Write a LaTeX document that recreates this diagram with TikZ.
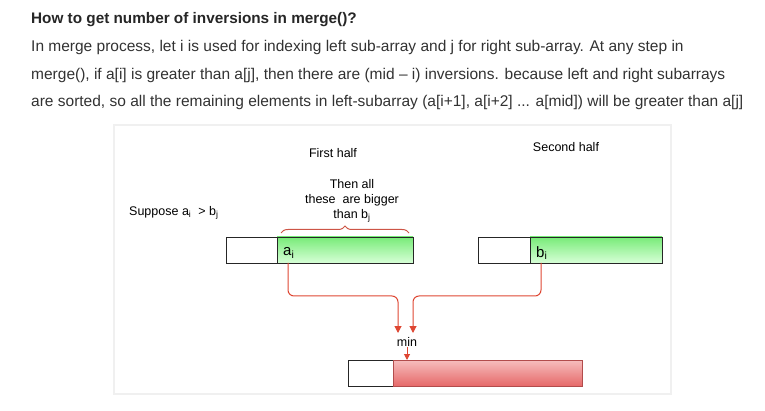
\documentclass[tikz,border=0pt]{standalone}
\usepackage{fontspec}
\setmainfont{Liberation Sans}
\usetikzlibrary{positioning,arrows.meta,decorations.pathreplacing,calc}
\definecolor{inktext}{RGB}{50,50,50}
\definecolor{inkred}{RGB}{222,70,50}
\definecolor{bracered}{RGB}{205,85,70}
\definecolor{greentop}{RGB}{120,235,120}
\definecolor{greenbot}{RGB}{215,255,215}
\definecolor{redtop}{RGB}{246,190,190}
\definecolor{redbot}{RGB}{230,105,105}

\tikzset{
  bodyline/.style={anchor=base west,inner sep=0pt,text=inktext,font=\fontsize{15.5}{18}\selectfont},
  label/.style={inner sep=0pt,font=\fontsize{12.5}{15}\selectfont},
  cell/.style={draw=black!85,line width=0.8pt,minimum height=26pt,inner sep=0pt,outer sep=0pt},
  greencell/.style={cell,top color=greentop,bottom color=greenbot},
  redcell/.style={cell,draw=red!40!gray,top color=redtop,bottom color=redbot},
  mergearrow/.style={inkred,line width=1pt,rounded corners=6pt,-{Triangle[length=7pt,width=7pt]}}
}

\begin{document}
\begin{tikzpicture}[x=1pt,y=-1pt]
  \useasboundingbox (0,0) rectangle (765,411);

  % text above the figure
  \node[bodyline,text=black!85,font=\bfseries\fontsize{15.3}{18}\selectfont] (title) at (31,24) {How to get number of inversions in merge()?};
  \node[bodyline] (para1) at (31,52) {In merge process, let i is used for indexing left sub-array and j for right sub-array. At any step in};
  \node[bodyline] (para2) at (31,80) {merge(), if a[i] is greater than a[j], then there are (mid -- i) inversions. because left and right subarrays};
  \node[bodyline] (para3) at (31,107) {are sorted, so all the remaining elements in left-subarray (a[i+1], a[i+2] ... a[mid]) will be greater than a[j]};

  % panel
  \draw[black!6,line width=1.5pt] (114,125) rectangle (671,394);

  % left half
  \node[cell,minimum width=51pt,anchor=north west] (lw) at (226,237) {};
  \node[greencell,minimum width=136pt,right=0pt of lw] (lg) {};
  \node[anchor=west,inner sep=0pt,font=\fontsize{15}{17}\selectfont] (ai) at ($(lg.west)+(6,3)$) {a\textsubscript{i}};

  % right half
  \node[cell,minimum width=52pt,anchor=north west] (rw) at (478,237) {};
  \node[greencell,minimum width=132pt,right=0pt of rw] (rg) {};
  \node[anchor=west,inner sep=0pt,font=\fontsize{15}{17}\selectfont] (bi) at ($(rg.west)+(6,3)$) {b\textsubscript{i}};

  % merged array
  \node[cell,minimum width=45pt,anchor=north west] (mw) at (348,360) {};
  \node[redcell,minimum width=189pt,right=0pt of mw] (mr) {};

  % labels
  \node[label] (first) at (333,153) {First half};
  \node[label] (second) at (566,147) {Second half};
  \node[label,anchor=west] (suppose) at (129,213) {Suppose a\textsubscript{i} \ > b\textsubscript{j}};
  \node[label,align=center,font=\fontsize{12.5}{15}\selectfont] (bigger) at (352,201) {Then all\\these\ \ are bigger\\than b\textsubscript{j}};
  \node[label] (min) at (407,342) {min};

  % brace over the rest of the left half
  \draw[bracered,line width=1pt,decorate,decoration={brace,amplitude=7pt}]
    (281,233) -- (409,233);

  % paths to min
  \coordinate (lfrom) at ($(lg.south west)+(11,0)$);
  \coordinate (rfrom) at ($(rg.south west)+(11,0)$);
  \coordinate (lto) at (398,333);
  \coordinate (rto) at (413,333);
  \draw[mergearrow] (lfrom) |- ($(lto)+(0,-37)$) -- (lto);
  \draw[mergearrow] (rfrom) |- ($(rto)+(0,-37)$) -- (rto);
  \draw[inkred,line width=1pt,-{Triangle[length=6pt,width=6pt]}] (min.south) -- (min.south |- mr.north);
\end{tikzpicture}
\end{document}
